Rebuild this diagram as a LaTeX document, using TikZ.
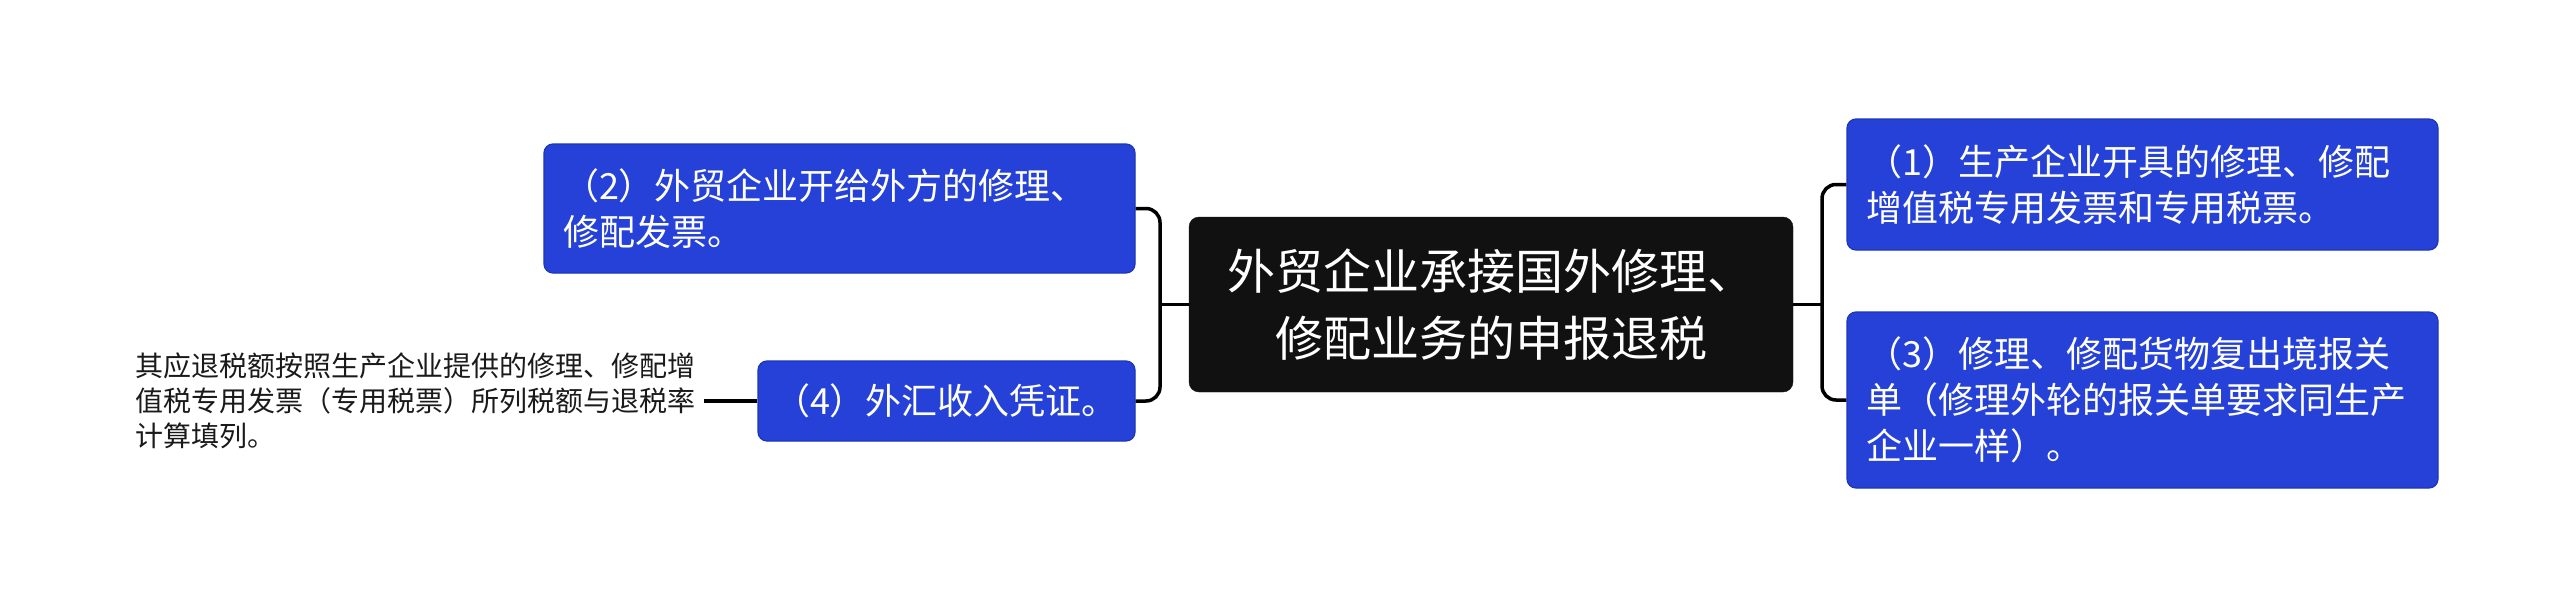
\documentclass[tikz,border=0pt]{standalone}
\usepackage{fontspec}
\setmainfont{Noto Sans CJK SC}
\definecolor{boxblue}{HTML}{2541D8}
\definecolor{boxedge}{HTML}{1E35B5}
\definecolor{darkbox}{HTML}{111111}
\definecolor{leaftext}{HTML}{1A1A1A}
\begin{document}
\begin{tikzpicture}[x=1pt,y=-1pt,
  bluebox/.style={fill=boxblue, draw=boxedge, line width=1.2pt, rounded corners=9pt,
    text=white, align=left, inner xsep=19pt, inner ysep=0pt,
    font=\fontsize{36}{46}\selectfont},
  mainbox/.style={fill=darkbox, draw=darkbox, rounded corners=10pt, text=white,
    align=center, inner xsep=20pt, inner ysep=0pt,
    font=\fontsize{48}{67}\selectfont},
  leafnode/.style={text=leaftext, align=left, inner xsep=8pt, inner ysep=0pt,
    font=\fontsize{28}{35}\selectfont},
  conn/.style={draw=black, line width=3.5pt, rounded corners=14pt}]
\useasboundingbox (0,0) rectangle (2560,610);
\fill[white] (0,0) rectangle (2560,610);

\node[mainbox, minimum width=604pt, minimum height=175pt, text width=564pt]
  (c) at (1491,304.5) {外贸企业承接国外修理、\\修配业务的申报退税};

\node[bluebox, minimum width=591pt, minimum height=129pt, text width=553pt]
  (b2) at (839.5,208.5) {（2）外贸企业开给外方的修理、\\修配发票。};
\node[bluebox, minimum width=377pt, minimum height=80pt, text width=345pt, inner xsep=16pt]
  (b4) at (946.5,401) {（4）外汇收入凭证。};
\node[bluebox, minimum width=591pt, minimum height=131pt, text width=553pt]
  (b1) at (2142.5,184.5) {（1）生产企业开具的修理、修配\\增值税专用发票和专用税票。};
\node[bluebox, minimum width=591pt, minimum height=176pt, text width=553pt]
  (b3) at (2142.5,400) {（3）修理、修配货物复出境报关\\单（修理外轮的报关单要求同生产\\企业一样）。};

\node[leafnode, text width=560pt, anchor=east] (leaf) at (704,401)
  {其应退税额按照生产企业提供的修理、修配增\\值税专用发票（专用税票）所列税额与退税率\\计算填列。};

\coordinate (lj) at (1160,304.5);
\coordinate (rj) at (1822,304.5);

\draw[conn] (b2.east) -| (lj) |- (b4.east);
\draw[conn] (c.west) -- (lj);
\draw[conn] (b1.west) -| (rj) |- (b3.west);
\draw[conn] (c.east) -- (rj);
\draw[conn] (leaf.east) -- (b4.west);
\end{tikzpicture}
\end{document}
